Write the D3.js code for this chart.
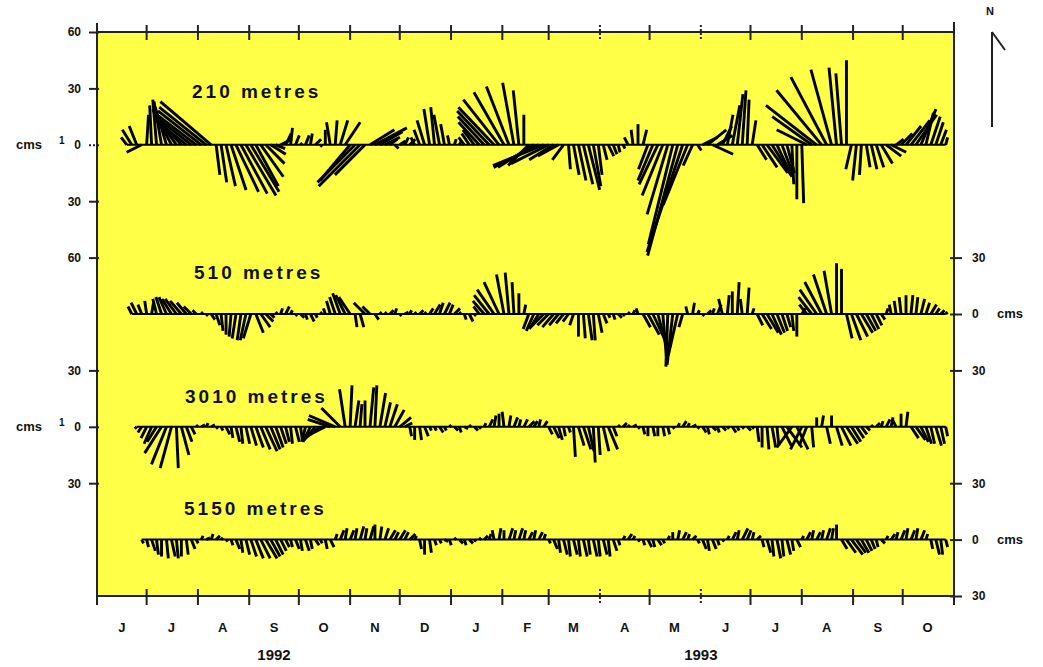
<!DOCTYPE html>
<html>
<head>
<meta charset="utf-8">
<script src="https://cdn.jsdelivr.net/npm/d3@7"></script>
<style>
  body { margin: 0; background: #fff; }
  svg text { font-family: Arial, "Liberation Sans", sans-serif; font-weight: bold; fill: #111; }
</style>
</head>
<body>
<svg id="chart" width="1043" height="667"></svg>
<script>
// current meter records, one stick every 3 days from 16 June 1992
// u = eastward, v = northward, cm/s (null = no data)
var startDate = new Date(1992, 5, 16);
var stepDays = 3;

var u210 = [null,
  -3,-5,-4,-8,
  1,-1,-2,-4,-6,-10,-12,-14,-16,-19,-21,-23,-25,-27,
  2,3,5,8,12,14,16,15,12,12,10,8,5,
  6,3,1,2,1,2,1,3,1,0,-2,1,4,8,
  -16,-20,-22,-16,
  13,17,12,8,4,
  2,3,2,3,
  -2,-3,-4,-3,-2,-3,-2,-1,1,1,
  -3,-4,-6,-11,-14,-17,-19,-19,-16,-12,-6,-3,0,
  -11,-19,-24,-27,-20,-13,-11,-6,
  1,3,4,5,6,4,2,2,3,2,1,1,
  -2,-1,0,2,
  -5,-8,-10,-11,-11,-13,-16,-19,-13,-5,
  2,
  8,10,11,
  8,5,3,4,3,2,1,2,
  5,8,11,10,8,6,4,1,0,1,
  -16,-21,-27,-24,-19,-11,-4,-3,0,
  -3,-2,-1,2,3,4,6,8,8,
  4,6,8,10,11,8,4,5,4,3,1];
var v210 = [null,
  4,8,10,-4,
  16,21,24,23,20,19,17,15,13,15,16,18,20,23,
  -16,-20,-22,-24,-25,-26,-27,-25,-22,-17,-10,-5,-2,
  3,6,9,5,1,5,6,3,-1,8,12,13,13,12,
  -19,-20,-22,-16,
  8,9,7,4,3,
  -2,2,4,3,
  4,8,13,19,20,16,11,5,3,2,
  4,6,8,12,15,18,20,24,28,31,33,29,16,
  -11,-12,-12,-11,-10,-8,-6,-8,
  -13,-16,-19,-21,-24,-22,-16,-8,-6,-5,-4,-2,
  4,8,11,8,
  -13,-19,-21,-27,-37,-53,-59,-57,-32,-11,
  -3,
  4,8,-5,
  5,10,16,21,27,29,24,13,
  -8,-12,-15,-16,-17,-16,-15,-21,-29,-31,
  8,15,21,29,36,40,41,38,45,
  -13,-19,-16,-12,-13,-12,-10,-6,-4,
  3,6,10,13,16,19,17,15,12,8,4];

var u510 = [null,null,
  -2,-3,-2,-1,1,-2,-3,-4,-5,-6,-6,-5,-4,-2,1,
  1,2,2,1,0,-1,-2,-2,-3,-4,4,5,4,2,
  1,1,2,1,1,2,1,2,1,1,
  -1,-2,-3,-4,-5,-6,1,2,-6,-4,2,1,
  1,2,1,1,2,1,1,2,1,2,3,2,3,2,3,1,1,2,1,
  -3,-6,-8,-9,-8,-4,-2,-1,0,1,
  -3,-4,-5,-7,-6,-6,-5,-4,-3,-2,0,1,2,1,2,2,1,1,2,1,1,1,-1,
  4,6,7,5,2,-1,-3,-5,-2,
  -1,1,1,1,2,1,2,-2,1,0,1,-1,1,1,
  3,5,6,5,4,3,2,1,0,2,
  -4,-7,-9,-9,-7,-4,0,0,
  3,5,6,6,5,4,3,2,
  1,-1,-1,-1,0,1,1,2,2,3,2,2,1];
var v510 = [null,null,
  4,6,5,7,6,8,9,9,8,8,7,6,4,2,1,
  -1,-3,-6,-9,-11,-12,-13,-14,-14,-13,-10,-7,-4,-2,
  1,3,4,2,-1,-2,-3,-4,-2,1,
  3,7,9,11,10,9,-7,-7,6,4,-3,1,
  1,2,3,-1,1,2,1,2,1,3,5,6,6,5,3,1,-3,-4,-1,
  4,7,10,13,17,21,22,17,11,5,
  -8,-9,-8,-7,-6,-7,-6,-5,-4,-6,-12,-13,-14,-14,-10,-5,-2,-3,-2,-1,1,2,3,
  -7,-11,-15,-19,-24,-28,-27,-22,-7,
  4,6,2,-1,2,3,5,8,10,12,17,8,14,3,
  -6,-8,-10,-11,-10,-9,-7,-9,-12,3,
  5,9,13,17,21,23,27,24,
  -13,-14,-12,-10,-9,-8,-6,-3,
  3,5,7,9,10,10,9,8,6,5,3,2,1];

var u3010 = [null,null,null,
  -1,-2,-3,-4,-5,-9,-8,-6,1,4,3,2,
  1,2,1,2,1,
  1,2,1,2,1,2,3,4,5,6,5,4,3,2,1,2,1,-2,-4,-6,-8,-10,
  -12,-14,-10,-3,1,2,1,0,2,1,3,3,4,5,6,4,
  1,0,1,2,1,
  1,2,1,1,2,1,2,1,2,1,
  1,2,1,0,-1,1,2,1,2,3,2,1,2,
  2,3,2,1,1,1,3,4,3,1,1,3,5,2,
  1,2,1,2,1,1,0,1,0,1,1,1,
  1,2,1,2,1,
  2,1,2,1,2,1,2,1,1,2,1,
  1,0,1,2,1,
  5,8,-8,6,-6,-4,1,
  0,1,2,0,3,5,6,5,4,3,2,
  1,2,1,
  2,1,-2,0,1,4,5,4,3,2,3,2,1];
var v3010 = [null,null,null,
  -1,-3,-6,-9,-8,-14,-20,-22,-22,-15,-8,-4,
  1,1,2,1,-1,
  -2,-4,-6,-8,-9,-9,-10,-11,-12,-13,-12,-11,-9,-8,-9,-8,-7,-8,-8,-7,-6,-5,
  4,6,10,20,22,14,12,14,21,22,18,13,12,9,5,2,
  -5,-7,-7,-5,-2,
  -2,-3,-2,1,-2,-3,-1,1,-2,-1,
  2,4,6,7,8,6,5,4,4,3,3,4,3,
  -4,-6,-7,-5,-3,-16,-10,-12,-13,-19,-15,-13,-12,-5,
  1,2,1,1,-1,-4,-5,-5,-5,-5,-4,-1,
  2,3,2,1,-1,
  -3,-4,-2,-3,-2,-1,-3,-2,-1,-2,-1,
  -8,-11,-12,-11,-10,
  -10,-11,-11,-12,-12,-10,-11,
  5,6,-9,6,-10,-10,-9,-8,-6,-4,-2,
  1,2,3,
  4,5,4,7,8,-6,-7,-8,-9,-9,-10,-9,-5];

var u5150 = [null,null,null,null,
  1,1,2,1,0,1,2,1,0,1,2,1,
  1,2,1,2,1,1,
  1,2,1,2,3,4,5,6,5,4,3,2,
  1,2,1,2,1,2,1,
  1,2,1,2,1,2,1,2,1,2,0,1,2,3,2,3,2,3,1,
  1,0,1,1,
  1,2,1,1,2,1,2,1,1,2,
  1,-1,1,0,2,1,2,1,2,1,2,1,
  1,2,1,2,1,2,1,2,1,2,1,2,1,2,1,
  1,2,1,1,
  1,2,1,2,1,
  1,0,1,2,1,2,
  1,2,1,2,1,1,
  1,2,1,3,2,1,2,
  1,2,1,2,1,2,1,2,
  1,2,1,2,1,2,1,0,
  3,5,6,5,4,3,2,1,2,
  1,2,1,2,1,2,1,2,1,
  1,2,1,1];
var v5150 = [null,null,null,null,
  -2,-4,-6,-8,-9,-10,-9,-10,-9,-8,-5,-2,
  2,1,3,2,1,-1,
  -3,-5,-7,-8,-9,-10,-10,-10,-9,-8,-6,-4,
  -4,-5,-6,-6,-5,-3,-2,
  -5,-4,3,5,6,5,6,7,6,7,8,7,6,5,4,5,4,3,2,
  -5,-8,-7,-3,
  -2,-1,-3,1,-2,-3,-2,-1,1,2,
  3,5,6,5,6,5,6,5,4,5,4,3,
  -2,-5,-7,-8,-9,-8,-9,-9,-8,-9,-9,-8,-9,-6,-3,
  2,3,2,-1,
  -3,-4,-4,-3,-2,
  2,4,5,4,3,2,
  -2,-5,-6,-5,-3,-1,
  2,4,5,6,5,4,2,
  -4,-7,-9,-10,-9,-8,-6,-4,
  2,4,5,4,5,6,6,8,
  -5,-7,-8,-7,-7,-6,-5,-4,-2,
  2,3,4,5,6,5,6,5,3,
  -5,-8,-8,-4];

var depthLabels = ["210 metres", "510 metres", "3010 metres", "5150 metres"];
var monthLabels = ["J","J","A","S","O","N","D","J","F","M","A","M","J","J","A","S","O"];
var yearLabels = ["1992", "1993"];

// left / right speed axes (cm/s counted down from the top of the panel)
var leftTicks = [0, 30, 60, 90, 120, 180, 210, 240];
var leftTickLabels = ["60", "30", "0", "30", "60", "30", "0", "30"];
var rightTicks = [120, 150, 180, 240, 270, 300];
var rightTickLabels = ["30", "0", "30", "30", "0", "30"];

var series = [
  {u: u210, v: v210, name: depthLabels[0]},
  {u: u510, v: v510, name: depthLabels[1]},
  {u: u3010, v: v3010, name: depthLabels[2]},
  {u: u5150, v: v5150, name: depthLabels[3]}
];

// ---- layout ----
var svg = d3.select("#chart");
var pL = 97, pR = 954, pT = 32, pB = 596;
var zeroLines = [60, 150, 210, 270];      // where each record's zero sits on the speed axis
var labelPos = [[192, 98], [194, 279], [185, 403], [184, 515]];

var x = d3.scaleTime()
    .domain([new Date(1992, 5, 1), new Date(1993, 10, 1)])
    .range([pL, pR]);
var y = d3.scaleLinear().domain([0, 300]).range([pT, pB]);
var k = y(1) - y(0);   // px per cm/s, used for both components

svg.append("rect")
    .attr("x", pL).attr("y", pT)
    .attr("width", pR - pL).attr("height", pB - pT)
    .attr("fill", "#ffff48");

// sticks
series.forEach(function(s, si) {
    var y0 = y(zeroLines[si]);
    var pts = [];
    s.u.forEach(function(uu, i) {
        if (uu === null) return;
        var t = d3.timeDay.offset(startDate, i * stepDays);
        pts.push({x: x(t), u: uu, v: s.v[i]});
    });
    var g = svg.append("g");
    g.append("line")
        .attr("x1", pts[0].x).attr("x2", pts[pts.length - 1].x)
        .attr("y1", y0).attr("y2", y0)
        .attr("stroke", "#000").attr("stroke-width", 2);
    g.selectAll("line.stick").data(pts).enter().append("line")
        .attr("class", "stick")
        .attr("x1", function(d) { return d.x; })
        .attr("y1", y0)
        .attr("x2", function(d) { return d.x + d.u * k; })
        .attr("y2", function(d) { return y0 - d.v * k; })
        .attr("stroke", "#000")
        .attr("stroke-width", 2.9);

    svg.append("text")
        .attr("x", labelPos[si][0]).attr("y", labelPos[si][1])
        .attr("font-size", 19)
        .attr("letter-spacing", 3)
        .text(s.name);
});

// frame
svg.append("rect")
    .attr("x", pL).attr("y", pT)
    .attr("width", pR - pL).attr("height", pB - pT)
    .attr("fill", "none").attr("stroke", "#222").attr("stroke-width", 2);
svg.append("line").attr("x1", pL).attr("x2", pL).attr("y1", 23).attr("y2", 605)
    .attr("stroke", "#222").attr("stroke-width", 2);
svg.append("line").attr("x1", pR).attr("x2", pR).attr("y1", 22).attr("y2", 605)
    .attr("stroke", "#222").attr("stroke-width", 2);

// month ticks, bottom and top
var months = d3.timeMonth.range(new Date(1992, 6, 1), new Date(1993, 10, 1));
function dotted(d) {
    return (d.getFullYear() === 1993 && (d.getMonth() === 3 || d.getMonth() === 5));
}
[[pB - 7, pB + 9], [pT - 7, pT + 8]].forEach(function(span) {
    svg.selectAll(null).data(months).enter().append("line")
        .attr("x1", function(d) { return x(d); })
        .attr("x2", function(d) { return x(d); })
        .attr("y1", span[0]).attr("y2", span[1])
        .attr("stroke", "#222")
        .attr("stroke-width", 2)
        .attr("stroke-dasharray", function(d) { return dotted(d) ? "2,2" : null; });
});

var midMonths = d3.timeMonth.range(new Date(1992, 5, 1), new Date(1993, 10, 1))
    .map(function(d) { return d3.timeDay.offset(d, 15); });
svg.selectAll(null).data(midMonths).enter().append("text")
    .attr("x", function(d) { return x(d); })
    .attr("y", 632)
    .attr("text-anchor", "middle")
    .attr("font-size", 13)
    .text(function(d, i) { return monthLabels[i]; });

var yearDates = [new Date(1992, 8, 16), new Date(1993, 5, 1)];
svg.selectAll(null).data(yearDates).enter().append("text")
    .attr("x", function(d) { return x(d); })
    .attr("y", 660)
    .attr("text-anchor", "middle")
    .attr("font-size", 15)
    .text(function(d, i) { return yearLabels[i]; });

// speed axes
var yLeft = d3.axisLeft(y).tickValues(leftTicks)
    .tickFormat(function(d, i) { return leftTickLabels[i]; })
    .tickSize(8).tickPadding(8);
var gl = svg.append("g").attr("transform", "translate(" + pL + ",0)").call(yLeft);
gl.select(".domain").remove();
gl.selectAll(".tick line").attr("stroke", "#222").attr("stroke-width", 2).attr("x2", -8).attr("x1", 2);
gl.selectAll(".tick text").attr("font-size", 12).attr("font-family", "Arial, sans-serif").attr("font-weight", "bold");
gl.selectAll(".tick").filter(function(d) { return d === 60; }).select("line").attr("stroke-dasharray", "2,2");

var yRight = d3.axisRight(y).tickValues(rightTicks)
    .tickFormat(function(d, i) { return rightTickLabels[i]; })
    .tickSize(8).tickPadding(10);
var gr = svg.append("g").attr("transform", "translate(" + pR + ",0)").call(yRight);
gr.select(".domain").remove();
gr.selectAll(".tick line").attr("stroke", "#222").attr("stroke-width", 2).attr("x1", -4);
gr.selectAll(".tick text").attr("font-size", 12).attr("font-family", "Arial, sans-serif").attr("font-weight", "bold");

// units
[60, 210].forEach(function(z) {
    svg.append("text").attr("x", 16).attr("y", y(z) + 4).attr("font-size", 13).text("cms");
    svg.append("text").attr("x", 59).attr("y", y(z) - 1).attr("font-size", 10).text("1");
});
[150, 270].forEach(function(z) {
    svg.append("text").attr("x", 997).attr("y", y(z) + 4).attr("font-size", 13).text("cms");
});

// north reference
svg.append("text").attr("x", 986).attr("y", 15).attr("font-size", 11).text("N");
svg.append("line").attr("x1", 992).attr("x2", 992).attr("y1", 32).attr("y2", 127)
    .attr("stroke", "#222").attr("stroke-width", 2);
svg.append("line").attr("x1", 992).attr("x2", 1005).attr("y1", 32).attr("y2", 50)
    .attr("stroke", "#222").attr("stroke-width", 2);
</script>
</body>
</html>
